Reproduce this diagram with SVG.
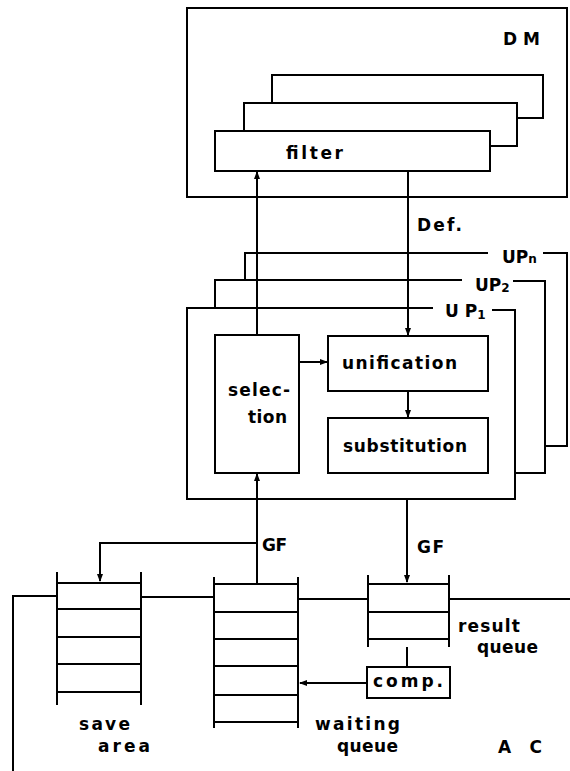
<svg xmlns="http://www.w3.org/2000/svg" width="570" height="771" viewBox="0 0 570 771">
<defs>
<style>
.s{fill:none;stroke:#000;stroke-width:2}
.b{fill:#fff;stroke:#000;stroke-width:2}
.t{font-family:"DejaVu Sans","Liberation Sans",sans-serif;font-weight:bold;font-size:17px;fill:#000}
.sub{font-size:12px}
</style>
<marker id="ah" markerWidth="8" markerHeight="8" refX="7" refY="4" orient="auto" markerUnits="userSpaceOnUse">
<path d="M0,1 L8,4 L0,7 Z" fill="#000"/>
</marker>
</defs>
<rect width="570" height="771" fill="#fff"/>

<g id="DM">
<path class="s" d="M187,8 H567 V197 H187 Z"/>
<text class="t" x="503" y="45" textLength="37" lengthAdjust="spacing">D M</text>
<rect class="b" x="272" y="75" width="271" height="43"/>
<rect class="b" x="244" y="103" width="273" height="43"/>
</g>
<g id="filter">
<rect class="b" x="215" y="131" width="275" height="40"/>
<text class="t" x="286" y="159" textLength="57" lengthAdjust="spacing">filter</text>
</g>

<g id="UPn">
<path class="s" d="M245,280 V253 H488 M543,253 H567 V446 H545"/>
<text class="t" x="502" y="263">UP<tspan class="sub">n</tspan></text>
</g>
<g id="UP2">
<path class="s" d="M215,308 V280 H462 M513,281 H545 V473 H515"/>
<text class="t" x="475" y="291">UP<tspan class="sub" dy="1">2</tspan></text>
</g>
<g id="UP1">
<path class="s" d="M433,308 H187 V499 H515 V310 H492"/>
<text class="t" x="445" y="317">U P<tspan class="sub" dy="2">1</tspan></text>
</g>

<g id="selection">
<rect class="b" x="215" y="335" width="84" height="138"/>
<text class="t" x="228" y="396" textLength="62" lengthAdjust="spacing">selec-</text>
<text class="t" x="248" y="423" textLength="39" lengthAdjust="spacing">tion</text>
</g>
<g id="unification">
<rect class="b" x="328" y="336" width="160" height="55"/>
<text class="t" x="342" y="369" textLength="115" lengthAdjust="spacing">unification</text>
</g>
<g id="substitution">
<rect class="b" x="328" y="418" width="160" height="55"/>
<text class="t" x="343" y="452" textLength="124" lengthAdjust="spacing">substitution</text>
</g>

<g id="AC">
<path class="s" d="M13,771 V596 H57 M141,597 H214 M298,599 H368 M449,599 H570"/>
<text class="t" x="498" y="753" textLength="44" lengthAdjust="spacing">A C</text>
</g>
<g id="save-area">
<path class="s" d="M57,572 V705 M141,572 V705 M57,583 H141 M57,609 H141 M57,637 H141 M57,664 H141 M57,692 H141"/>
<text class="t" x="79" y="730" textLength="51" lengthAdjust="spacing">save</text>
<text class="t" x="98" y="752" textLength="52" lengthAdjust="spacing">area</text>
</g>
<g id="waiting-queue">
<path class="s" d="M214,577 V728 M298,577 V728 M214,584 H298 M214,612 H298 M214,639 H298 M214,666 H298 M214,695 H298 M214,722 H298"/>
<text class="t" x="315" y="730" textLength="85" lengthAdjust="spacing">waiting</text>
<text class="t" x="337" y="752" textLength="61" lengthAdjust="spacing">queue</text>
</g>
<g id="result-queue">
<path class="s" d="M368,575 V647 M449,575 V647 M368,584 H449 M368,612 H449 M368,639 H449"/>
<text class="t" x="458" y="632" textLength="62" lengthAdjust="spacing">result</text>
<text class="t" x="477" y="653" textLength="61" lengthAdjust="spacing">queue</text>
</g>
<g id="comp">
<rect class="b" x="367" y="667" width="83" height="31"/>
<text class="t" x="373" y="687" textLength="70" lengthAdjust="spacing">comp.</text>
</g>

<g id="connectors">
<path class="s" d="M257,335 V172" marker-end="url(#ah)"/>
<path class="s" d="M408,171 V335" marker-end="url(#ah)"/>
<path class="s" d="M299,362 H327" marker-end="url(#ah)"/>
<path class="s" d="M408,391 V417" marker-end="url(#ah)"/>
<path class="s" d="M257,584 V474" marker-end="url(#ah)"/>
<path class="s" d="M257,543 H100 V581" marker-end="url(#ah)"/>
<path class="s" d="M407,499 V582" marker-end="url(#ah)"/>
<path class="s" d="M407,647 V667"/>
<path class="s" d="M367,683 H300" marker-end="url(#ah)"/>
<text class="t" x="417" y="231" textLength="45" lengthAdjust="spacing">Def.</text>
<text class="t" x="262" y="551" textLength="25" lengthAdjust="spacing">GF</text>
<text class="t" x="417" y="553" textLength="27" lengthAdjust="spacing">GF</text>
</g>
</svg>
